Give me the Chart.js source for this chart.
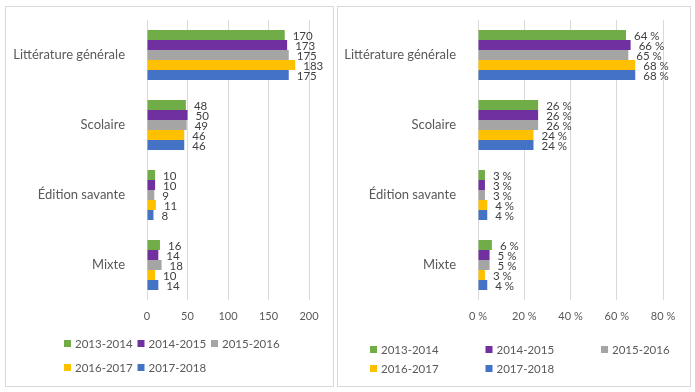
<!DOCTYPE html>
<html>
<head>
<meta charset="utf-8">
<script src="https://cdn.jsdelivr.net/npm/chart.js@4"></script>
<style>
  body { margin: 0; background: #fff; }
  .box { position: absolute; top: 6px; height: 381px; box-sizing: border-box; border: 1px solid #d9d9d9; }
  #boxLeft { left: 5px; width: 329px; }
  #boxRight { left: 337px; width: 354px; }
  canvas { display: block; }
</style>
</head>
<body>
<div class="box" id="boxLeft"><canvas id="countChart" width="327" height="379"></canvas></div>
<div class="box" id="boxRight"><canvas id="shareChart" width="352" height="379"></canvas></div>
<script>
const categories = ['Littérature générale', 'Scolaire', 'Édition savante', 'Mixte'];
const years = ['2013-2014', '2014-2015', '2015-2016', '2016-2017', '2017-2018'];
const colors = ['#70AD47', '#7030A0', '#A5A5A5', '#FFC000', '#4472C4'];

// nombre de titres
const counts2013 = [170, 48, 10, 16];
const counts2014 = [173, 50, 10, 14];
const counts2015 = [175, 49, 9, 18];
const counts2016 = [183, 46, 11, 10];
const counts2017 = [175, 46, 8, 14];

// part en %
const share2013 = [64, 26, 3, 6];
const share2014 = [66, 26, 3, 5];
const share2015 = [65, 26, 3, 5];
const share2016 = [68, 24, 4, 3];
const share2017 = [68, 24, 4, 4];

const countTicks = [0, 50, 100, 150, 200];
const shareTicks = [0, 20, 40, 60, 80];

const FONT = 'Lato';

function makeDatasets(series) {
    return series.map((values, i) => ({
        label: years[i],
        data: values,
        backgroundColor: colors[i],
        borderWidth: 0,
        categoryPercentage: 0.714,
        barPercentage: 1
    }));
}

// valeurs au bout des barres
const barLabels = {
    id: 'barLabels',
    afterDatasetsDraw(chart, args, opts) {
        const ctx = chart.ctx;
        ctx.save();
        ctx.font = '11.5px ' + FONT;
        ctx.fillStyle = '#404040';
        ctx.textAlign = 'left';
        ctx.textBaseline = 'middle';
        chart.data.datasets.forEach((ds, i) => {
            chart.getDatasetMeta(i).data.forEach((bar, j) => {
                ctx.fillText(ds.data[j] + opts.suffix, bar.x + 8, bar.y + 1);
            });
        });
        ctx.restore();
    }
};

// légende en grille, comme dans Excel
const gridLegend = {
    id: 'gridLegend',
    afterDraw(chart, args, opts) {
        const ctx = chart.ctx;
        ctx.save();
        ctx.font = '11.5px ' + FONT;
        ctx.textBaseline = 'middle';
        ctx.textAlign = 'left';
        chart.data.datasets.forEach((ds, i) => {
            const col = i % 3, row = Math.floor(i / 3);
            const x = opts.x + col * opts.colW;
            const y = opts.rows[row];
            ctx.fillStyle = ds.backgroundColor;
            ctx.fillRect(x, y - 4, 7, 7);
            ctx.fillStyle = '#595959';
            ctx.fillText(ds.label, x + 11, y);
        });
        ctx.restore();
    }
};

function noPad(scale) {
    scale.paddingTop = scale.paddingBottom = 0;
    scale.paddingLeft = scale.paddingRight = 0;
}

function makeChart(id, series, ticks, suffix, pad, legend) {
    return new Chart(document.getElementById(id), {
        type: 'bar',
        data: { labels: categories, datasets: makeDatasets(series) },
        options: {
            indexAxis: 'y',
            responsive: false,
            animation: false,
            layout: { padding: { top: 13, right: pad.right, bottom: 56, left: 0 } },
            scales: {
                x: {
                    min: ticks[0],
                    max: ticks[ticks.length - 1],
                    afterBuildTicks: (scale) => { scale.ticks = ticks.map(v => ({ value: v })); },
                    grid: { color: '#d9d9d9', drawTicks: false },
                    border: { display: false },
                    ticks: {
                        padding: 10,
                        color: '#595959',
                        font: { family: FONT, size: 11 },
                        callback: (v) => v + suffix
                    },
                    afterFit: (scale) => { scale.height = 30; noPad(scale); }
                },
                y: {
                    grid: { display: false },
                    border: { display: false },
                    ticks: {
                        padding: 14,
                        color: '#595959',
                        font: { family: FONT, size: 13 }
                    },
                    afterFit: (scale) => { scale.width = pad.left; noPad(scale); }
                }
            },
            plugins: {
                legend: { display: false },
                tooltip: { enabled: false },
                barLabels: { suffix: suffix },
                gridLegend: legend
            }
        },
        plugins: [barLabels, gridLegend]
    });
}

makeChart('countChart',
    [counts2013, counts2014, counts2015, counts2016, counts2017],
    countTicks, '', { left: 141, right: 24 },
    { x: 58, colW: 73.5, rows: [337, 361] });

makeChart('shareChart',
    [share2013, share2014, share2015, share2016, share2017],
    shareTicks, ' %', { left: 140, right: 27 },
    { x: 32, colW: 115.5, rows: [343, 362] });
</script>
</body>
</html>
